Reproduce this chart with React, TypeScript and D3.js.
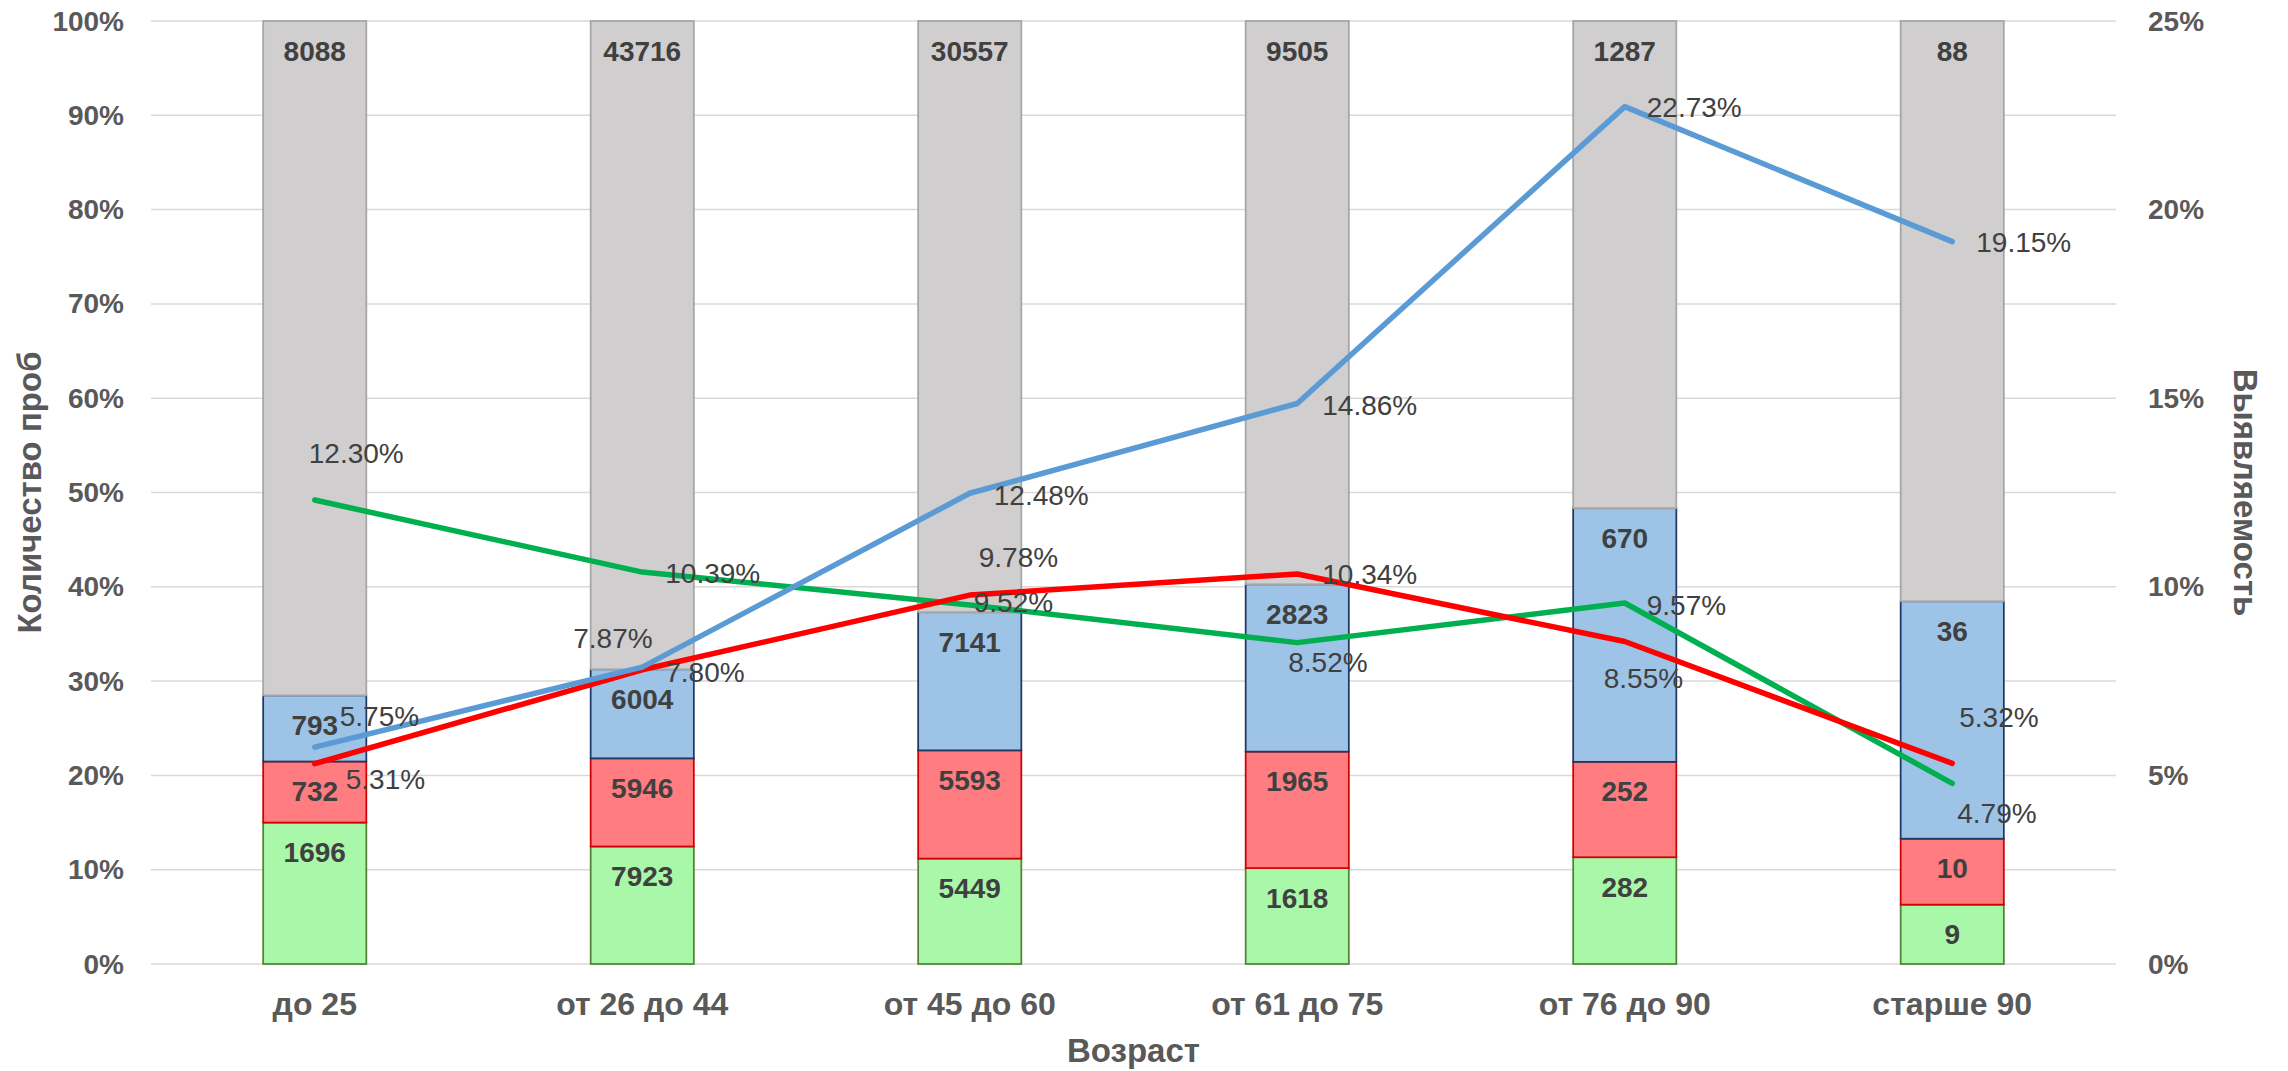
import React, { useEffect, useRef } from 'react';
import * as d3 from 'd3';

const categories = ['до 25', 'от 26 до 44', 'от 45 до 60', 'от 61 до 75', 'от 76 до 90', 'старше 90'];
const greenCounts = [1696, 7923, 5449, 1618, 282, 9];
const redCounts = [732, 5946, 5593, 1965, 252, 10];
const blueCounts = [793, 6004, 7141, 2823, 670, 36];
const grayCounts = [8088, 43716, 30557, 9505, 1287, 88];
const blueRate = [5.75, 7.87, 12.48, 14.86, 22.73, 19.15];
const redRate = [5.31, 7.8, 9.78, 10.34, 8.55, 5.32];
const greenRate = [12.3, 10.39, 9.52, 8.52, 9.57, 4.79];

// label nudges (px) relative to each line point: [dx, dy]
const blueLabelShift = [[25, -31], [-69, -29], [24, 2], [25, 2], [22, 1], [24, 1]];
const redLabelShift = [[31, 16], [23, 3], [9, -38], [25, 1], [-21, 37], [7, -46]];
const greenLabelShift = [[-6, -47], [23, 1], [4, -2], [-9, 20], [22, 2], [5, 30]];

const FONT = '"Liberation Sans", Arial, sans-serif';

export default function App() {
  const ref = useRef(null);

  useEffect(() => {
    document.body.style.margin = '0';
    const width = 2288;
    const height = 1071;
    const left = 151, right = 2116, top = 21, bottom = 964;

    const svg = d3.select(ref.current).attr('width', width).attr('height', height);
    svg.selectAll('*').remove();

    const x = d3.scaleBand().domain(categories).range([left, right]).paddingInner(0.685).paddingOuter(0.3425);
    const y = d3.scaleLinear().domain([0, 1]).range([bottom, top]);
    const y2 = d3.scaleLinear().domain([0, 25]).range([bottom, top]);

    // gridlines
    svg.append('g')
      .selectAll('line')
      .data(y.ticks(10))
      .enter()
      .append('line')
      .attr('x1', left).attr('x2', right)
      .attr('y1', d => y(d)).attr('y2', d => y(d))
      .attr('stroke', '#D9D9D9')
      .attr('stroke-width', 1.5);

    // left axis labels
    svg.append('g')
      .selectAll('text')
      .data(y.ticks(10))
      .enter()
      .append('text')
      .attr('x', 124)
      .attr('y', d => y(d))
      .attr('text-anchor', 'end')
      .attr('dominant-baseline', 'central')
      .attr('font-family', FONT).attr('font-weight', 'bold').attr('font-size', 28)
      .attr('fill', '#595959')
      .text(d => d3.format('.0%')(d));

    // right axis labels
    svg.append('g')
      .selectAll('text')
      .data(y2.ticks(5))
      .enter()
      .append('text')
      .attr('x', 2148)
      .attr('y', d => y2(d))
      .attr('text-anchor', 'start')
      .attr('dominant-baseline', 'central')
      .attr('font-family', FONT).attr('font-weight', 'bold').attr('font-size', 28)
      .attr('fill', '#595959')
      .text(d => d + '%');

    // stacked 100% bars
    const rows = categories.map((c, i) => ({
      cat: c, green: greenCounts[i], red: redCounts[i], blue: blueCounts[i], gray: grayCounts[i],
    }));
    const keys = ['green', 'red', 'blue', 'gray'];
    const fills = { green: '#A9F7A9', red: '#FF7C80', blue: '#9DC3E6', gray: '#D0CECE' };
    const strokes = { green: '#548235', red: '#D00000', blue: '#203864', gray: '#A5A5A5' };
    const stacked = d3.stack().keys(keys).offset(d3.stackOffsetExpand)(rows);

    stacked.forEach(layer => {
      const g = svg.append('g');
      g.selectAll('rect')
        .data(layer)
        .enter()
        .append('rect')
        .attr('x', d => x(d.data.cat))
        .attr('y', d => y(d[1]))
        .attr('width', x.bandwidth())
        .attr('height', d => y(d[0]) - y(d[1]))
        .attr('fill', fills[layer.key])
        .attr('stroke', strokes[layer.key])
        .attr('stroke-width', 1.75);
    });

    stacked.forEach(layer => {
      svg.append('g')
        .selectAll('text')
        .data(layer)
        .enter()
        .append('text')
        .attr('x', d => x(d.data.cat) + x.bandwidth() / 2)
        .attr('y', d => y(d[1]) + 30)
        .attr('text-anchor', 'middle')
        .attr('dominant-baseline', 'central')
        .attr('font-family', FONT).attr('font-weight', 'bold').attr('font-size', 28)
        .attr('fill', '#404040')
        .text(d => d.data[layer.key]);
    });

    // lines
    const cx = i => x(categories[i]) + x.bandwidth() / 2;
    const line = d3.line().x((d, i) => cx(i)).y(d => y2(d));
    const series = [
      { vals: greenRate, color: '#00B050', shift: greenLabelShift },
      { vals: redRate, color: '#FF0000', shift: redLabelShift },
      { vals: blueRate, color: '#5B9BD5', shift: blueLabelShift },
    ];
    series.forEach(s => {
      svg.append('path')
        .attr('d', line(s.vals))
        .attr('fill', 'none')
        .attr('stroke', s.color)
        .attr('stroke-width', 5.5)
        .attr('stroke-linejoin', 'round')
        .attr('stroke-linecap', 'round');
    });
    series.forEach(s => {
      svg.append('g')
        .selectAll('text')
        .data(s.vals)
        .enter()
        .append('text')
        .attr('x', (d, i) => cx(i) + s.shift[i][0])
        .attr('y', (d, i) => y2(d) + s.shift[i][1])
        .attr('dominant-baseline', 'central')
        .attr('font-family', FONT).attr('font-size', 28)
        .attr('fill', '#404040')
        .text(d => d.toFixed(2) + '%');
    });

    // category labels
    svg.append('g')
      .selectAll('text')
      .data(categories)
      .enter()
      .append('text')
      .attr('x', d => x(d) + x.bandwidth() / 2)
      .attr('y', 1015)
      .attr('text-anchor', 'middle')
      .attr('font-family', FONT).attr('font-weight', 'bold').attr('font-size', 32)
      .attr('fill', '#595959')
      .text(d => d);

    // axis titles
    svg.append('text')
      .attr('x', (left + right) / 2).attr('y', 1062)
      .attr('text-anchor', 'middle')
      .attr('font-family', FONT).attr('font-weight', 'bold').attr('font-size', 33)
      .attr('fill', '#595959')
      .text('Возраст');

    svg.append('text')
      .attr('transform', `translate(41, ${(top + bottom) / 2}) rotate(-90)`)
      .attr('text-anchor', 'middle')
      .attr('font-family', FONT).attr('font-weight', 'bold').attr('font-size', 33)
      .attr('fill', '#595959')
      .text('Количество проб');

    svg.append('text')
      .attr('transform', `translate(2234, ${(top + bottom) / 2}) rotate(90)`)
      .attr('text-anchor', 'middle')
      .attr('font-family', FONT).attr('font-weight', 'bold').attr('font-size', 33)
      .attr('fill', '#595959')
      .text('Выявляемость');
  }, []);

  return <svg ref={ref} style={{ display: 'block' }} />;
}
